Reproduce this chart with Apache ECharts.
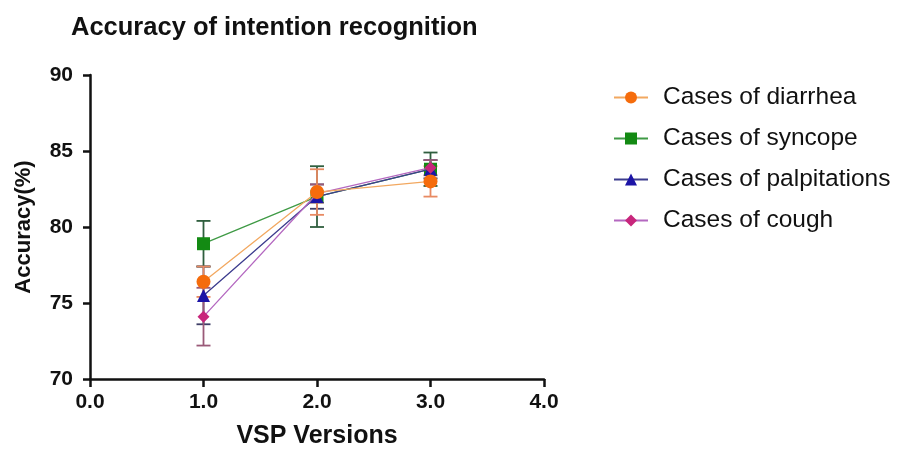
<!DOCTYPE html>
<html style="height: 100%">
<head>
<meta charset="utf-8">
<title>Accuracy of intention recognition</title>
<script src="https://cdn.jsdelivr.net/npm/echarts@6/dist/echarts.min.js"></script>
</head>
<body style="height: 100%; margin: 0; background: #fff">
<div id="container" style="width: 904px; height: 458px"></div>
<script>
var versions = [1, 2, 3];
var diarrhea = [76.4, 82.3, 83.0];
var diarrheaErr = [1.0, 1.5, 1.0];
var syncope = [78.9, 82.0, 83.8];
var syncopeErr = [1.5, 2.0, 1.1];
var palpitations = [75.5, 82.0, 83.8];
var palpitationsErr = [1.9, 0.8, 0.6];
var cough = [74.1, 82.2, 83.9];
var coughErr = [1.9, 0.6, 0.5];
var xTicks = [0, 1, 2, 3, 4];
var yTicks = [70, 75, 80, 85, 90];

var font = 'Liberation Sans, Arial, sans-serif';

function pairs(ys) {
  return versions.map(function (x, i) { return [x, ys[i]]; });
}
function errData(ys, es) {
  return versions.map(function (x, i) { return [x, ys[i] - es[i], ys[i] + es[i]]; });
}
function errSeries(name, ys, es, color, z) {
  return {
    type: 'custom',
    name: name,
    z: z,
    silent: true,
    data: errData(ys, es),
    renderItem: function (params, api) {
      var lo = api.coord([api.value(0), api.value(1)]);
      var hi = api.coord([api.value(0), api.value(2)]);
      var w = 7;
      var st = { stroke: color, lineWidth: 1.8 };
      return {
        type: 'group',
        children: [
          { type: 'line', shape: { x1: hi[0], y1: hi[1], x2: lo[0], y2: lo[1] }, style: st },
          { type: 'line', shape: { x1: hi[0] - w, y1: hi[1], x2: hi[0] + w, y2: hi[1] }, style: st },
          { type: 'line', shape: { x1: lo[0] - w, y1: lo[1], x2: lo[0] + w, y2: lo[1] }, style: st }
        ]
      };
    }
  };
}
function lineSeries(name, ys, symbol, size, color, lineColor, z) {
  return {
    type: 'line',
    name: name,
    z: z,
    data: pairs(ys),
    symbol: symbol,
    symbolSize: size,
    itemStyle: { color: color },
    lineStyle: { color: lineColor, width: 1.3 },
    emphasis: { disabled: true }
  };
}

var dom = document.getElementById('container');
var myChart = echarts.init(dom);
var option = {
  animation: false,
  backgroundColor: '#ffffff',
  title: {
    text: 'Accuracy of intention recognition',
    left: 66,
    top: 10,
    textStyle: { fontFamily: font, fontSize: 25.5, fontWeight: 'bold', color: '#111' }
  },
  legend: {
    orient: 'vertical',
    left: 608,
    top: 80,
    itemWidth: 34,
    itemHeight: 15,
    itemGap: 16,
    data: ['Cases of diarrhea', 'Cases of syncope', 'Cases of palpitations', 'Cases of cough'],
    textStyle: { fontFamily: font, fontSize: 24.5, color: '#111', padding: [0, 0, 0, 10] }
  },
  grid: { left: 90, right: 360, top: 75, bottom: 79 },
  xAxis: {
    type: 'value',
    min: 0,
    max: 4,
    interval: 1,
    name: 'VSP Versions',
    nameLocation: 'middle',
    nameGap: 45,
    nameTextStyle: { fontFamily: font, fontSize: 25, fontWeight: 'bold', color: '#111' },
    axisLine: { show: true, lineStyle: { color: '#111', width: 2.5 } },
    axisTick: { show: true, length: 8, lineStyle: { color: '#111', width: 2.5 } },
    axisLabel: {
      margin: 13,
      fontFamily: font, fontSize: 21, fontWeight: 'bold', color: '#111',
      formatter: function (v) { return xTicks.indexOf(v) >= 0 ? v.toFixed(1) : ''; }
    },
    splitLine: { show: false }
  },
  yAxis: {
    type: 'value',
    min: 70,
    max: 90,
    interval: 5,
    name: 'Accuracy(%)',
    nameLocation: 'middle',
    nameGap: 55,
    nameTextStyle: { fontFamily: font, fontSize: 22, fontWeight: 'bold', color: '#111' },
    axisLine: { show: true, lineStyle: { color: '#111', width: 2.5 } },
    axisTick: { show: true, length: 7, lineStyle: { color: '#111', width: 2.5 } },
    axisLabel: {
      margin: 17,
      fontFamily: font, fontSize: 21, fontWeight: 'bold', color: '#111',
      formatter: function (v) { return yTicks.indexOf(v) >= 0 ? String(v) : ''; }
    },
    splitLine: { show: false }
  },
  series: [
    errSeries('err-syncope', syncope, syncopeErr, '#2f5e3e', 2),
    errSeries('err-palpitations', palpitations, palpitationsErr, '#3e3e66', 2),
    errSeries('err-cough', cough, coughErr, '#9a5a78', 2),
    errSeries('err-diarrhea', diarrhea, diarrheaErr, '#e88a62', 2),
    lineSeries('Cases of syncope', syncope, 'rect', 13, '#138a13', '#3f9a45', 3),
    lineSeries('Cases of palpitations', palpitations, 'triangle', 13, '#1c14a6', '#3c3c8e', 4),
    lineSeries('Cases of cough', cough, 'diamond', 12, '#c8267c', '#b468c0', 5),
    lineSeries('Cases of diarrhea', diarrhea, 'circle', 14, '#f56c0c', '#f2a860', 6)
  ]
};
myChart.setOption(option);
</script>
</body>
</html>
